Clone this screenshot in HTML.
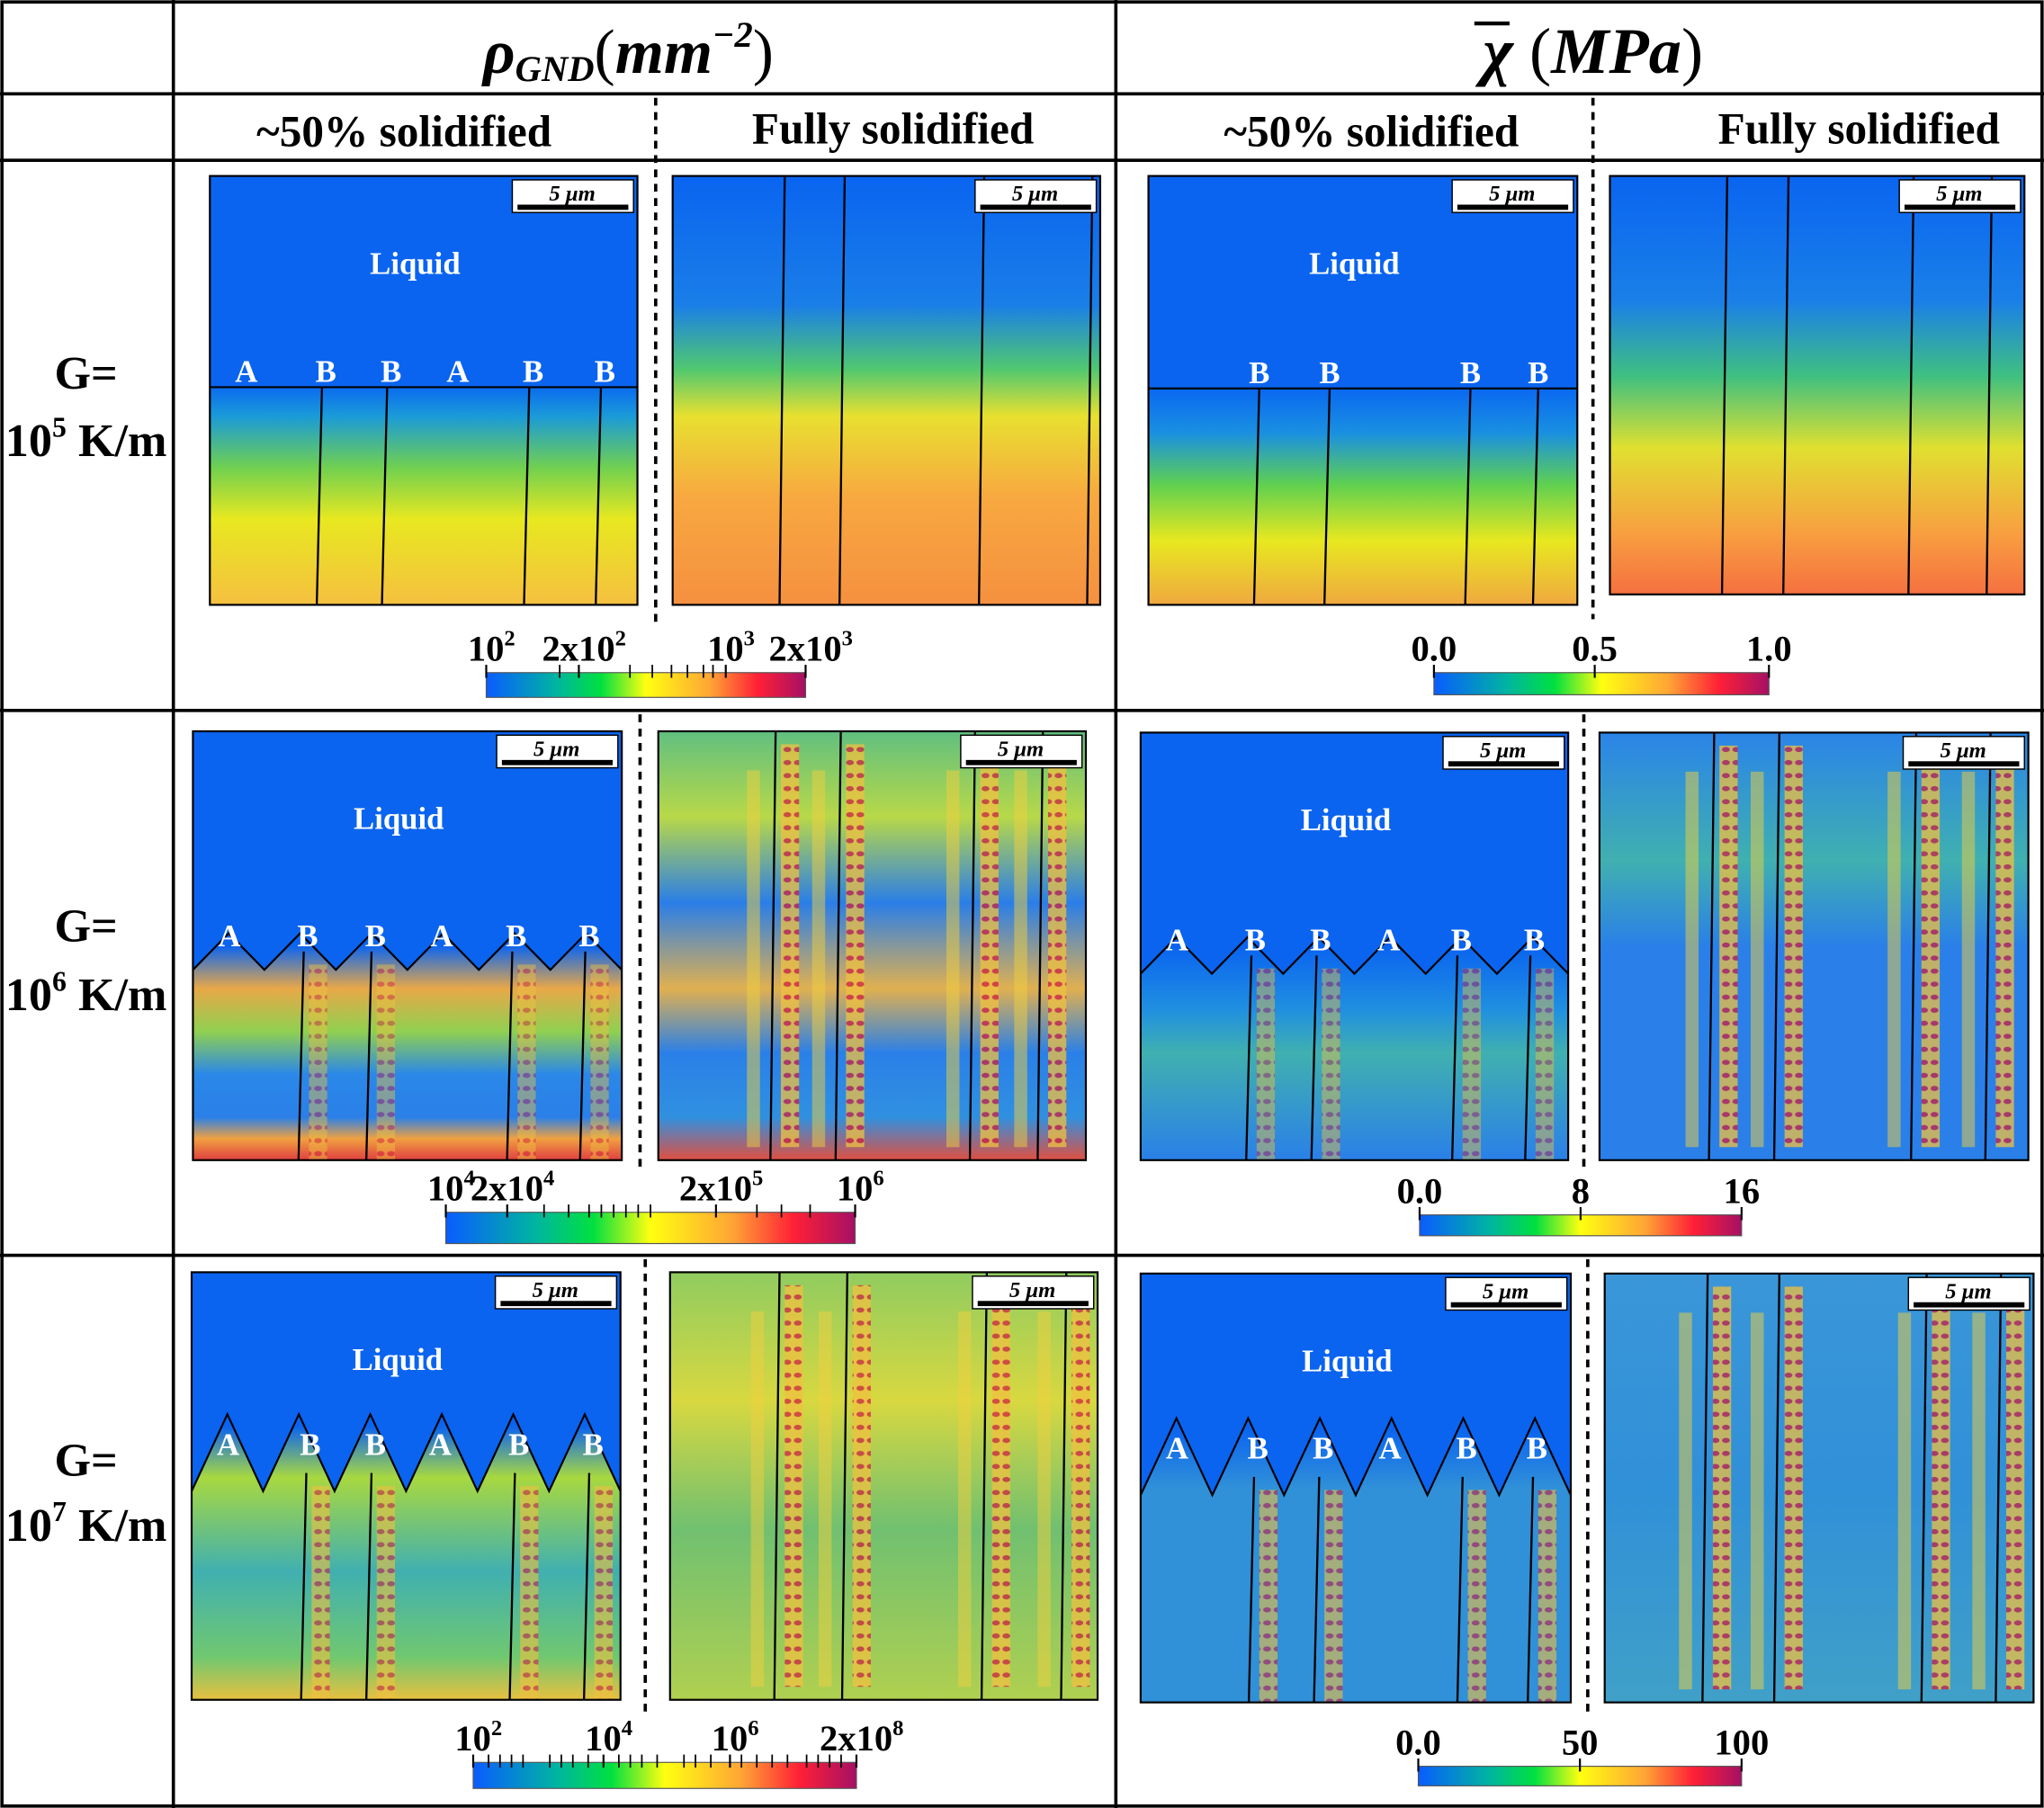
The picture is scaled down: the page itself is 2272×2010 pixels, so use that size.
<!DOCTYPE html>
<html><head><meta charset="utf-8">
<style>
html,body{margin:0;padding:0;background:#fff;}
svg{display:block;}
text{font-family:"Liberation Serif",serif;font-weight:bold;fill:#000;}
</style></head>
<body>
<svg id="fig" xmlns="http://www.w3.org/2000/svg" width="2272" height="2010" viewBox="0 0 1568 1387" preserveAspectRatio="none">
<defs>
<linearGradient id="cmap" x1="0" x2="1" y1="0" y2="0">
<stop offset="0" stop-color="#0a5cff"/><stop offset="0.22" stop-color="#00b5a0"/><stop offset="0.36" stop-color="#00e040"/>
<stop offset="0.5" stop-color="#ffff10"/><stop offset="0.7" stop-color="#ffa535"/><stop offset="0.85" stop-color="#ff2035"/><stop offset="1" stop-color="#a51065"/>
</linearGradient>
<linearGradient id="g1a" x1="0" x2="0" y1="0" y2="1"><stop offset="0" stop-color="#0a64f0"/><stop offset="0.49" stop-color="#0a6af0"/><stop offset="0.56" stop-color="#1a9ad8"/><stop offset="0.68" stop-color="#70d050"/><stop offset="0.8" stop-color="#e8e820"/><stop offset="1" stop-color="#f5c040"/></linearGradient>
<linearGradient id="g1b" x1="0" x2="0" y1="0" y2="1"><stop offset="0" stop-color="#0a64f0"/><stop offset="0.3" stop-color="#1a7ee8"/><stop offset="0.45" stop-color="#50c870"/><stop offset="0.56" stop-color="#e8e030"/><stop offset="0.75" stop-color="#f8a840"/><stop offset="1" stop-color="#f59040"/></linearGradient>
<linearGradient id="g1c" x1="0" x2="0" y1="0" y2="1"><stop offset="0" stop-color="#0a64f0"/><stop offset="0.5" stop-color="#0a6af0"/><stop offset="0.6" stop-color="#1a90e0"/><stop offset="0.72" stop-color="#60d050"/><stop offset="0.85" stop-color="#e8e820"/><stop offset="1" stop-color="#f0a840"/></linearGradient>
<linearGradient id="g1d" x1="0" x2="0" y1="0" y2="1"><stop offset="0" stop-color="#0a64f0"/><stop offset="0.3" stop-color="#1a80e8"/><stop offset="0.48" stop-color="#40c080"/><stop offset="0.65" stop-color="#e0e030"/><stop offset="0.85" stop-color="#f8a040"/><stop offset="1" stop-color="#f57040"/></linearGradient>
<linearGradient id="g2a" x1="0" x2="0" y1="0" y2="1"><stop offset="0" stop-color="#0a64f0"/><stop offset="0.5" stop-color="#0a64f0"/><stop offset="0.6" stop-color="#e8a848"/><stop offset="0.7" stop-color="#90d050"/><stop offset="0.8" stop-color="#2a88e8"/><stop offset="0.9" stop-color="#2a80e8"/><stop offset="0.95" stop-color="#f0a040"/><stop offset="1" stop-color="#e04040"/></linearGradient>
<linearGradient id="g2b" x1="0" x2="0" y1="0" y2="1"><stop offset="0" stop-color="#60c080"/><stop offset="0.2" stop-color="#b8d848"/><stop offset="0.4" stop-color="#2a7ee8"/><stop offset="0.6" stop-color="#e0b050"/><stop offset="0.75" stop-color="#2a80e8"/><stop offset="0.9" stop-color="#3090e0"/><stop offset="1" stop-color="#e05040"/></linearGradient>
<linearGradient id="g2c" x1="0" x2="0" y1="0" y2="1"><stop offset="0" stop-color="#0a64f0"/><stop offset="0.5" stop-color="#0a64f0"/><stop offset="0.65" stop-color="#2090e0"/><stop offset="0.75" stop-color="#40b0b0"/><stop offset="1" stop-color="#2a80e8"/></linearGradient>
<linearGradient id="g2d" x1="0" x2="0" y1="0" y2="1"><stop offset="0" stop-color="#2a84e8"/><stop offset="0.3" stop-color="#40b0b0"/><stop offset="0.5" stop-color="#2a80e8"/><stop offset="1" stop-color="#2a80e8"/></linearGradient>
<linearGradient id="g3a" x1="0" x2="0" y1="0" y2="1"><stop offset="0" stop-color="#0a64f0"/><stop offset="0.36" stop-color="#0a64f0"/><stop offset="0.48" stop-color="#a8d840"/><stop offset="0.7" stop-color="#40b0b0"/><stop offset="0.9" stop-color="#70c870"/><stop offset="1" stop-color="#e8c040"/></linearGradient>
<linearGradient id="g3b" x1="0" x2="0" y1="0" y2="1"><stop offset="0" stop-color="#90cc60"/><stop offset="0.3" stop-color="#d8d840"/><stop offset="0.6" stop-color="#70c070"/><stop offset="1" stop-color="#b0d050"/></linearGradient>
<linearGradient id="g3c" x1="0" x2="0" y1="0" y2="1"><stop offset="0" stop-color="#0a64f0"/><stop offset="0.36" stop-color="#0a64f0"/><stop offset="0.5" stop-color="#3090d8"/><stop offset="1" stop-color="#3090d8"/></linearGradient>
<linearGradient id="g3d" x1="0" x2="0" y1="0" y2="1"><stop offset="0" stop-color="#3a96d8"/><stop offset="0.5" stop-color="#3090d8"/><stop offset="1" stop-color="#40a0c8"/></linearGradient>
<pattern id="dots" width="8" height="10" patternUnits="userSpaceOnUse"><rect width="8" height="10" fill="#f0c040"/><ellipse cx="4" cy="5" rx="3" ry="2" fill="#d02040"/></pattern>
</defs>
<g id="layer"></g>
</svg>
<script>
// colorbar tick labels (data): base and exponent
const cb1Labels = [["10","2"],["2x10","2"],["10","3"],["2x10","3"]];
const cb2Labels = [["0.0",""],["0.5",""],["1.0",""]];
const cb3Labels = [["10","4"],["2x10","4"],["2x10","5"],["10","6"]];
const cb4Labels = [["0.0",""],["8",""],["16",""]];
const cb5Labels = [["10","2"],["10","4"],["10","6"],["2x10","8"]];
const cb6Labels = [["0.0",""],["50",""],["100",""]];
const cb1Frac = [0,0.29,0.75,1];
const cb2Frac = [0,0.48,1];
const cb3Frac = [0,0.15,0.66,1];
const cb4Frac = [0,0.5,1];
const cb5Frac = [0,0.34,0.67,1];
const cb6Frac = [0,0.5,1];

const NS="http://www.w3.org/2000/svg";
const L=document.getElementById('layer');
function mk(tag,attrs,parent){const e=document.createElementNS(NS,tag);for(const k in attrs)e.setAttribute(k,attrs[k]);(parent||L).appendChild(e);return e;}
function txt(x,y,s,size,name,anchor){const t=mk('text',{x:x,y:y,'font-size':size,'text-anchor':anchor||'middle'});t.textContent=s;


return t;}

// table grid
const grid=mk('g',{stroke:'#000','stroke-width':2.5,fill:'none'});


mk('rect',{x:1.5,y:1.5,width:1565,height:1384},grid);
[133,856].forEach(x=>mk('line',{x1:x,y1:0,x2:x,y2:1387},grid));
[72,123,545,963].forEach(y=>mk('line',{x1:0,y1:y,x2:1568,y2:y},grid));

// headers
const h1=mk('text',{x:482,y:56,'font-size':48,'text-anchor':'middle','font-style':'italic'});


h1.innerHTML='ρ<tspan font-size="28" dy="6">GND</tspan><tspan dy="-6" font-style="normal" font-weight="normal">(</tspan>mm<tspan font-size="28" dy="-20">−2</tspan><tspan dy="20" font-style="normal" font-weight="normal">)</tspan>';
const h2=mk('text',{x:1222,y:56,'font-size':50,'text-anchor':'middle','font-style':'italic'});


h2.innerHTML='χ <tspan font-style="normal" font-weight="normal">(</tspan>MPa<tspan font-style="normal" font-weight="normal">)</tspan>';
const bar=mk('line',{x1:1131,y1:18,x2:1158,y2:18,stroke:'#000','stroke-width':3});


txt(310,112,'~50% solidified',34,'subheader-50-left');
txt(685,110,'Fully solidified',34,'subheader-full-left');
txt(1052,112,'~50% solidified',34,'subheader-50-right');
txt(1426,110,'Fully solidified',34,'subheader-full-right');
[['5',298,350],['6',722,775],['7',1132,1182]].forEach((r,i)=>{
 txt(66,r[1],'G=',36,'row-label-g-'+(i+1));
 const t=mk('text',{x:66,y:r[2],'font-size':36,'text-anchor':'middle'});
 t.innerHTML='10<tspan font-size="22" dy="-15">'+r[0]+'</tspan><tspan dy="15"> K/m</tspan>';
 
 
});

// dashed dividers
[[503,75,480],[1222,75,475],[491,548,900],[1215,548,900],[495,966,1315],[1218,966,1315]].forEach((d,i)=>{
 const l=mk('line',{x1:d[0],y1:d[1],x2:d[0],y2:d[2],stroke:'#000','stroke-width':2.5,'stroke-dasharray':'6,5'});
 
 
});

// panels: x,y,w,h,grad,interfaceY,grains,liquid,letters,style
const panels=[
 [161,135,328,329,'g1a',297,[247,297,406,461],'Liquid',['A','B','B','A','B','B'],'flat'],
 [516,135,328,329,'g1b',null,[602,648,755,838],null,null,'flat'],
 [881,135,329,329,'g1c',298,[966,1020,1128,1180],'Liquid',['B','B','B','B'],'flat'],
 [1235,135,318,321,'g1d',null,[1325,1372,1468,1528],null,null,'flat'],
 [148,561,329,329,'g2a',730,[233,285,393,449],'Liquid',['A','B','B','A','B','B'],'zig'],
 [505,561,328,329,'g2b',null,[595,645,748,800],null,null,'dots'],
 [875,562,328,328,'g2c',733,[960,1010,1118,1174],'Liquid',['A','B','B','A','B','B'],'zig'],
 [1227,562,329,328,'g2d',null,[1315,1365,1470,1527],null,null,'dots'],
 [147,976,329,328,'g3a',1130,[235,285,395,452],'Liquid',['A','B','B','A','B','B'],'tree'],
 [514,976,328,328,'g3b',null,[598,650,757,818],null,null,'dots3'],
 [875,977,330,329,'g3c',1133,[962,1012,1122,1176],'Liquid',['A','B','B','A','B','B'],'tree'],
 [1231,977,329,329,'g3d',null,[1310,1365,1478,1535],null,null,'dots3']
];
panels.forEach((p,i)=>{
 const [x,y,w,h,g,iy,grains,liq,letters,style]=p;
 const grp=mk('g',{});
 
 
 const cp=mk('clipPath',{id:'cp'+i},grp);mk('rect',{x:x,y:y,width:w,height:h},cp);
 const inner=mk('g',{'clip-path':'url(#cp'+i+')'},grp);
 mk('rect',{x:x,y:y,width:w,height:h,fill:'url(#'+g+')'},inner);
 const top=iy||y;
 if(style==='dots'||style==='dots3'){
   grains.forEach(gx=>{mk('rect',{x:gx+4,y:y+10,width:14,height:h-20,fill:'url(#dots)',opacity:0.75},inner);
     mk('rect',{x:gx-22,y:y+30,width:10,height:h-40,fill:'#f0d040',opacity:0.5},inner);});
 }
 if(style==='zig'||style==='tree'){
   grains.forEach(gx=>{mk('rect',{x:gx+4,y:top+10,width:14,height:(y+h)-top-10,fill:'url(#dots)',opacity:style==='tree'?0.6:0.45},inner);});
   let d='M'+x+' '+y+' L'+(x+w)+' '+y+' L'+(x+w)+' '+(top-8);
   const n=12;for(let k=n;k>=0;k--){const px=x+w*k/n;const py=top+(k%2?-(style==='tree'?45:14):14);d+=' L'+px+' '+py;}
   d+=' Z';
   mk('path',{d:d,fill:'#0a64f0'},inner);
   let d2='';for(let k=0;k<=n;k++){const px=x+w*k/n;const py=top+(k%2?-(style==='tree'?45:14):14);d2+=(k?' L':'M')+px+' '+py;}
   mk('path',{d:d2,fill:'none',stroke:'#000','stroke-width':1.5},inner);
 } else if(iy){
   mk('rect',{x:x,y:y,width:w,height:iy-y,fill:'#0a64f0'},inner);
   mk('line',{x1:x,y1:iy,x2:x+w,y2:iy,stroke:'#000','stroke-width':1.5},inner);
 }
 grains.forEach(gx=>{mk('path',{d:'M'+gx+' '+(iy?iy:y)+' L'+(gx-4)+' '+(y+h),stroke:'#000','stroke-width':1.6,fill:'none'},inner);});
 mk('rect',{x:x,y:y,width:w,height:h,fill:'none',stroke:'#000','stroke-width':1.5},grp);
 const sx=x+w-96,sy=y+3;
 mk('rect',{x:sx,y:sy,width:93,height:25,fill:'#fff',stroke:'#000','stroke-width':1},grp);
 mk('rect',{x:sx+4,y:sy+19,width:85,height:4,fill:'#000'},grp);
 const st=mk('text',{x:sx+46,y:sy+16,'font-size':17,'text-anchor':'middle','font-style':'italic'},grp);
 st.textContent='5 μm';
 
 
 if(liq){const t=mk('text',{x:x+w*0.48,y:y+75,'font-size':24,'text-anchor':'middle',fill:'#fff'},grp);t.style.fill='#fff';t.textContent=liq;
   
   }
 if(letters){
   const xs=letters.length===6?[x+28].concat(grains.slice(0,2),[x+w*0.58],grains.slice(2)):grains;
   letters.forEach((L2,k)=>{const t=mk('text',{x:xs[k]+ (letters.length===6&&k!==0&&k!==3?3:0),y:(iy||y)-4-(style==='tree'?10:0),'font-size':24,'text-anchor':'middle'},grp);t.style.fill='#fff';t.textContent=L2;
     
     });
 }
});

// colorbars
function cbar(name,x,y,w,h,labels,frac,minor){
 const g=mk('g',{});
 
 
 mk('rect',{x:x,y:y,width:w,height:h,fill:'url(#cmap)',stroke:'#555','stroke-width':0.8},g);
 labels.forEach((s,i)=>{const px=x+w*frac[i];
   mk('line',{x1:px,y1:y-6,x2:px,y2:y+4,stroke:'#000','stroke-width':1.5},g);
   const t=mk('text',{x:px+(s[1]?4:0),y:y-9,'font-size':28,'text-anchor':'middle'},g);
   t.innerHTML=s[0]+(s[1]?'<tspan font-size="17" dy="-12">'+s[1]+'</tspan>':'');
   
   });
 (minor||[]).forEach(f=>mk('line',{x1:x+w*f,y1:y-6,x2:x+w*f,y2:y+4,stroke:'#000','stroke-width':1.2},g));
}
cbar('colorbar-rho-row1',373,516,245,19,cb1Labels,cb1Frac,[0.23,0.45,0.52,0.58,0.63,0.68,0.71]);
cbar('colorbar-chi-row1',1100,516,257,17,cb2Labels,cb2Frac,[]);
cbar('colorbar-rho-row2',342,930,314,24,cb3Labels,cb3Frac,[0.15,0.24,0.3,0.35,0.38,0.41,0.44,0.47,0.5,0.76,0.82,0.89]);
cbar('colorbar-chi-row2',1089,932,247,16,cb4Labels,cb4Frac,[]);
cbar('colorbar-rho-row3',363,1352,294,20,cb5Labels,cb5Frac,[0.04,0.07,0.1,0.13,0.2,0.23,0.26,0.3,0.38,0.41,0.44,0.48,0.55,0.58,0.62,0.7,0.74,0.78,0.82,0.87,0.9,0.93,0.96]);
cbar('colorbar-chi-row3',1088,1355,248,15,cb6Labels,cb6Frac,[]);
</script>
</body></html>
